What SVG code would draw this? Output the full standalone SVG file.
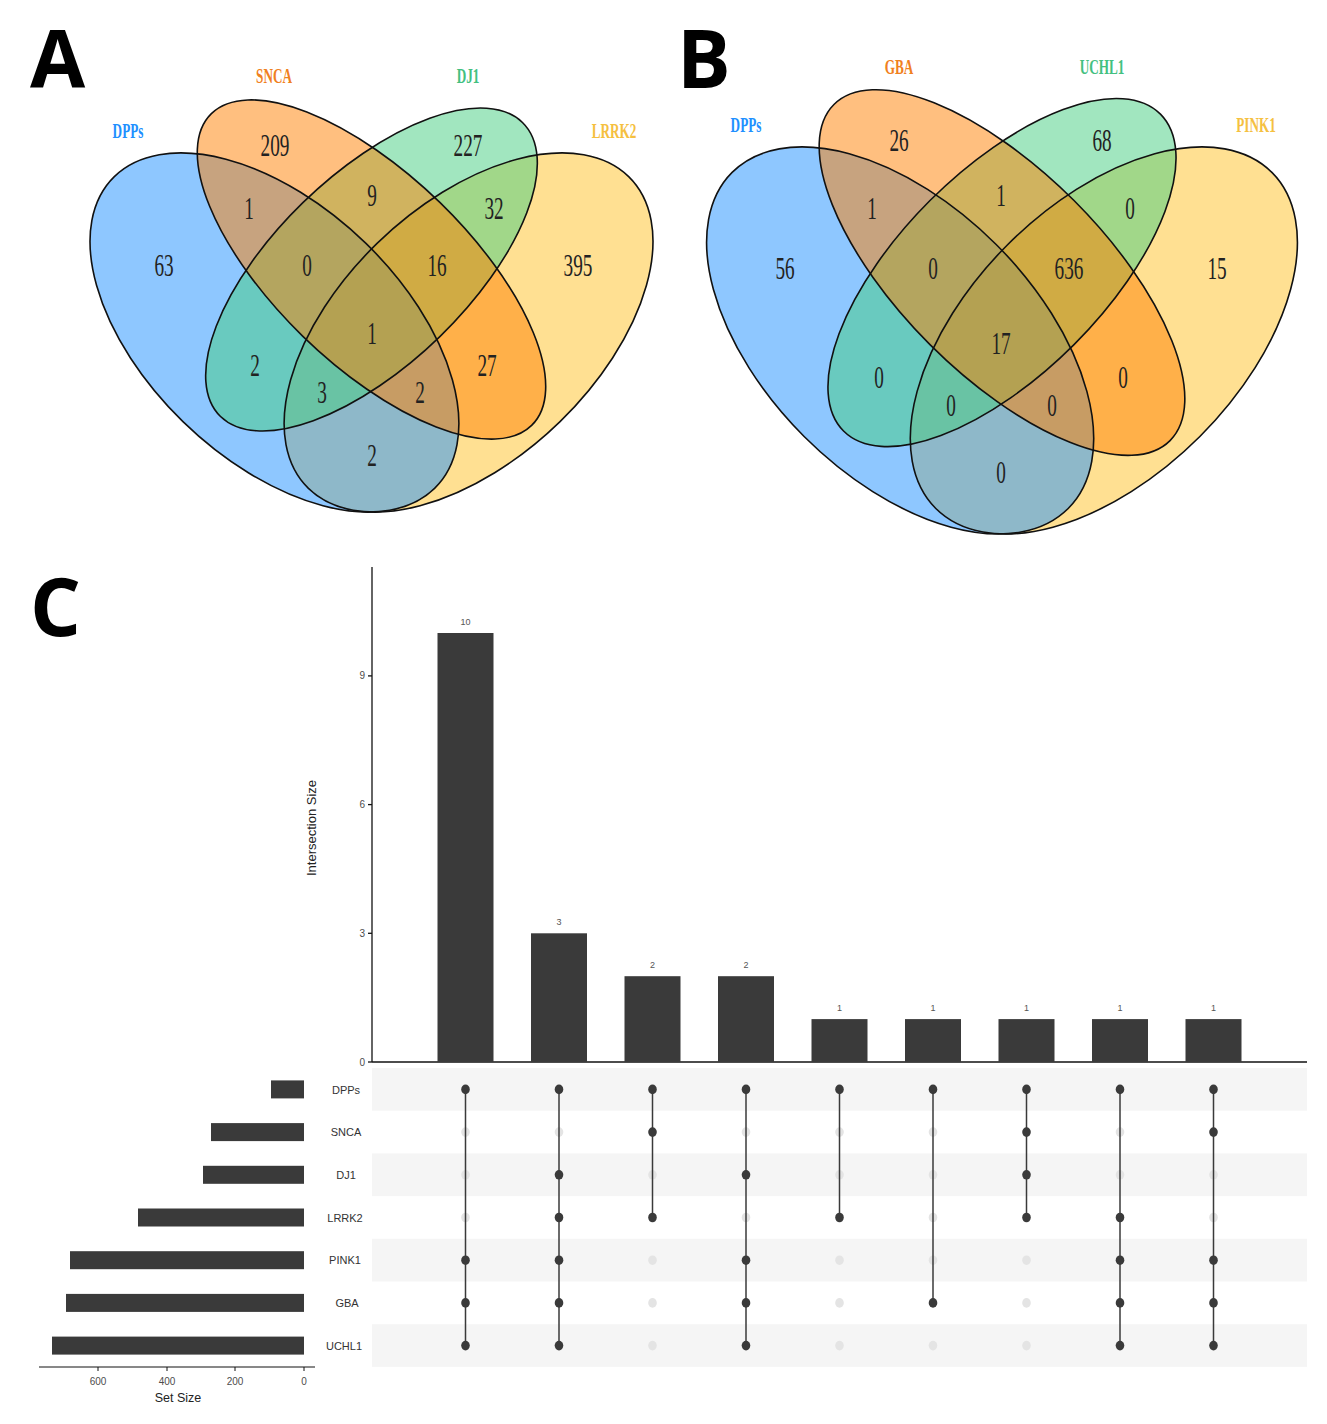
<svg xmlns="http://www.w3.org/2000/svg" width="1327" height="1424" viewBox="0 0 1327 1424">
<style>
.panel{font-family:"Open Sans","Liberation Sans",sans-serif;font-weight:bold;font-size:80px;fill:#000}
.num{font-family:"Liberation Serif",serif;font-size:31px;fill:#222;text-anchor:middle}
.lab{font-family:"Liberation Serif",serif;font-size:22px;font-weight:bold;text-anchor:middle}
.ell{fill-opacity:0.5;stroke:none}
.edge{fill:none;stroke:#111;stroke-width:1.6}
.bar{fill:#3a3a3a}
.tick{font-family:"Liberation Sans",Arial,sans-serif;font-size:10px;fill:#4d4d4d}
.blab{font-family:"Liberation Sans",Arial,sans-serif;font-size:9px;fill:#555;text-anchor:middle}
.rowlab{font-family:"Liberation Sans",Arial,sans-serif;font-size:11px;fill:#333;text-anchor:middle}
.axt{font-family:"Liberation Sans",Arial,sans-serif;font-size:13px;fill:#222;text-anchor:middle}
.ax{stroke:#111;stroke-width:1.3;fill:none}
.on{fill:#3a3a3a}
.off{fill:#e4e4e4}
.stripe{fill:#f5f5f5}
.link{stroke:#3a3a3a;stroke-width:1.5}
</style>
<defs>
<g id="vennShapes">
<ellipse class="ell" style="fill:#FFC125" cx="0.65" cy="0.47" rx="0.35" ry="0.2" transform="rotate(45 0.65 0.47)"/>
<ellipse class="ell" style="fill:#1E90FF" cx="0.35" cy="0.47" rx="0.35" ry="0.2" transform="rotate(-45 0.35 0.47)"/>
<ellipse class="ell" style="fill:#43CD80" cx="0.5" cy="0.57" rx="0.33" ry="0.15" transform="rotate(45 0.5 0.57)"/>
<ellipse class="ell" style="fill:#FF7F00" cx="0.5" cy="0.57" rx="0.35" ry="0.15" transform="rotate(-45 0.5 0.57)"/>
<ellipse class="edge" vector-effect="non-scaling-stroke" cx="0.65" cy="0.47" rx="0.35" ry="0.2" transform="rotate(45 0.65 0.47)"/>
<ellipse class="edge" vector-effect="non-scaling-stroke" cx="0.35" cy="0.47" rx="0.35" ry="0.2" transform="rotate(-45 0.35 0.47)"/>
<ellipse class="edge" vector-effect="non-scaling-stroke" cx="0.5" cy="0.57" rx="0.33" ry="0.15" transform="rotate(45 0.5 0.57)"/>
<ellipse class="edge" vector-effect="non-scaling-stroke" cx="0.5" cy="0.57" rx="0.35" ry="0.15" transform="rotate(-45 0.5 0.57)"/>
</g>
</defs>
<rect width="1327" height="1424" fill="#fff"/>

<!-- Panel A -->
<g id="panelA">
<text class="panel" x="30" y="88">A</text>
<g id="vennA-sets" transform="matrix(647,0,0,-630,48,628.6)"><use href="#vennShapes"/></g>
<g id="vennA-labels">
<text class="lab" style="fill:#1E90FF" transform="translate(128,137.5) scale(0.6,1)">DPPs</text>
<text class="lab" style="fill:#F08020" transform="translate(274,82.5) scale(0.6,1)">SNCA</text>
<text class="lab" style="fill:#43C080" transform="translate(468,82.5) scale(0.6,1)">DJ1</text>
<text class="lab" style="fill:#F5C040" transform="translate(614,137.5) scale(0.6,1)">LRRK2</text>
</g>
<g id="vennA-counts">
<text class="num" transform="translate(164,275.5) scale(0.62,1)">63</text>
<text class="num" transform="translate(275,155.5) scale(0.62,1)">209</text>
<text class="num" transform="translate(468,155.5) scale(0.62,1)">227</text>
<text class="num" transform="translate(578,275.5) scale(0.62,1)">395</text>
<text class="num" transform="translate(249,218.5) scale(0.62,1)">1</text>
<text class="num" transform="translate(372,205.5) scale(0.62,1)">9</text>
<text class="num" transform="translate(494,218.5) scale(0.62,1)">32</text>
<text class="num" transform="translate(307,275.5) scale(0.62,1)">0</text>
<text class="num" transform="translate(437,275.5) scale(0.62,1)">16</text>
<text class="num" transform="translate(372,343.5) scale(0.62,1)">1</text>
<text class="num" transform="translate(255,375.5) scale(0.62,1)">2</text>
<text class="num" transform="translate(487,375.5) scale(0.62,1)">27</text>
<text class="num" transform="translate(322,402.5) scale(0.62,1)">3</text>
<text class="num" transform="translate(420,402.5) scale(0.62,1)">2</text>
<text class="num" transform="translate(372,465.5) scale(0.62,1)">2</text>
</g>
</g>

<!-- Panel B -->
<g id="panelB">
<text class="panel" x="677" y="88">B</text>
<g id="vennB-sets" transform="matrix(679,0,0,-679,662.5,659.6)"><use href="#vennShapes"/></g>
<g id="vennB-labels">
<text class="lab" style="fill:#1E90FF" transform="translate(746,131.5) scale(0.6,1)">DPPs</text>
<text class="lab" style="fill:#F08020" transform="translate(899,73.5) scale(0.6,1)">GBA</text>
<text class="lab" style="fill:#43C080" transform="translate(1102,73.5) scale(0.6,1)">UCHL1</text>
<text class="lab" style="fill:#F5C040" transform="translate(1256,131.5) scale(0.6,1)">PINK1</text>
</g>
<g id="vennB-counts">
<text class="num" transform="translate(785,278.5) scale(0.62,1)">56</text>
<text class="num" transform="translate(899,150.5) scale(0.62,1)">26</text>
<text class="num" transform="translate(1102,150.5) scale(0.62,1)">68</text>
<text class="num" transform="translate(1217,278.5) scale(0.62,1)">15</text>
<text class="num" transform="translate(872,218.5) scale(0.62,1)">1</text>
<text class="num" transform="translate(1001,205.5) scale(0.62,1)">1</text>
<text class="num" transform="translate(1130,218.5) scale(0.62,1)">0</text>
<text class="num" transform="translate(933,278.5) scale(0.62,1)">0</text>
<text class="num" transform="translate(1069,278.5) scale(0.62,1)">636</text>
<text class="num" transform="translate(1001,353.5) scale(0.62,1)">17</text>
<text class="num" transform="translate(879,387.5) scale(0.62,1)">0</text>
<text class="num" transform="translate(1123,387.5) scale(0.62,1)">0</text>
<text class="num" transform="translate(951,415.5) scale(0.62,1)">0</text>
<text class="num" transform="translate(1052,415.5) scale(0.62,1)">0</text>
<text class="num" transform="translate(1001,482.5) scale(0.62,1)">0</text>
</g>
</g>

<!-- Panel C -->
<g id="panelC">
<text class="panel" x="30" y="636">C</text>

<g id="matrix-stripes">
<rect class="stripe" x="372" y="1068" width="935" height="42.7"/>
<rect class="stripe" x="372" y="1153.4" width="935" height="42.7"/>
<rect class="stripe" x="372" y="1238.8" width="935" height="42.7"/>
<rect class="stripe" x="372" y="1324.2" width="935" height="42.7"/>
</g>

<g id="intersection-axis">
<line class="ax" x1="372" y1="567" x2="372" y2="1062"/>
<line class="ax" x1="372" y1="1062" x2="1307" y2="1062"/>
<line class="ax" x1="368" y1="1062" x2="372" y2="1062"/>
<line class="ax" x1="368" y1="933.3" x2="372" y2="933.3"/>
<line class="ax" x1="368" y1="804.6" x2="372" y2="804.6"/>
<line class="ax" x1="368" y1="675.9" x2="372" y2="675.9"/>
<text class="tick" x="365" y="1065.5" text-anchor="end">0</text>
<text class="tick" x="365" y="936.8" text-anchor="end">3</text>
<text class="tick" x="365" y="808.1" text-anchor="end">6</text>
<text class="tick" x="365" y="679.4" text-anchor="end">9</text>
<text class="axt" transform="translate(316,828) rotate(-90)">Intersection Size</text>
</g>

<g id="intersection-bars">
<rect class="bar" x="437.5" y="633" width="56" height="429"/>
<rect class="bar" x="531" y="933.3" width="56" height="128.7"/>
<rect class="bar" x="624.5" y="976.2" width="56" height="85.8"/>
<rect class="bar" x="718" y="976.2" width="56" height="85.8"/>
<rect class="bar" x="811.5" y="1019.1" width="56" height="42.9"/>
<rect class="bar" x="905" y="1019.1" width="56" height="42.9"/>
<rect class="bar" x="998.5" y="1019.1" width="56" height="42.9"/>
<rect class="bar" x="1092" y="1019.1" width="56" height="42.9"/>
<rect class="bar" x="1185.5" y="1019.1" width="56" height="42.9"/>
<text class="blab" x="465.5" y="625">10</text>
<text class="blab" x="559" y="925">3</text>
<text class="blab" x="652.5" y="968">2</text>
<text class="blab" x="746" y="968">2</text>
<text class="blab" x="839.5" y="1011">1</text>
<text class="blab" x="933" y="1011">1</text>
<text class="blab" x="1026.5" y="1011">1</text>
<text class="blab" x="1120" y="1011">1</text>
<text class="blab" x="1213.5" y="1011">1</text>
</g>

<g id="set-size">
<rect class="bar" x="271" y="1080.4" width="33" height="18"/>
<rect class="bar" x="211" y="1123.1" width="93" height="18"/>
<rect class="bar" x="203" y="1165.8" width="101" height="18"/>
<rect class="bar" x="138" y="1208.5" width="166" height="18"/>
<rect class="bar" x="70" y="1251.2" width="234" height="18"/>
<rect class="bar" x="66" y="1293.9" width="238" height="18"/>
<rect class="bar" x="52" y="1336.6" width="252" height="18"/>
<line class="ax" x1="39" y1="1367" x2="315" y2="1367" style="stroke-width:1"/>
<line class="ax" x1="98" y1="1367" x2="98" y2="1371" style="stroke-width:1"/>
<line class="ax" x1="167" y1="1367" x2="167" y2="1371" style="stroke-width:1"/>
<line class="ax" x1="235" y1="1367" x2="235" y2="1371" style="stroke-width:1"/>
<line class="ax" x1="304" y1="1367" x2="304" y2="1371" style="stroke-width:1"/>
<text class="tick" x="98" y="1385" text-anchor="middle">600</text>
<text class="tick" x="167" y="1385" text-anchor="middle">400</text>
<text class="tick" x="235" y="1385" text-anchor="middle">200</text>
<text class="tick" x="304" y="1385" text-anchor="middle">0</text>
<text class="axt" x="178" y="1402" style="font-size:12.5px">Set Size</text>
</g>

<g id="row-labels">
<text class="rowlab" x="346" y="1093.5">DPPs</text>
<text class="rowlab" x="346" y="1136.2">SNCA</text>
<text class="rowlab" x="346" y="1178.9">DJ1</text>
<text class="rowlab" x="345" y="1221.6">LRRK2</text>
<text class="rowlab" x="345" y="1264.3">PINK1</text>
<text class="rowlab" x="347" y="1307">GBA</text>
<text class="rowlab" x="344" y="1349.7">UCHL1</text>
</g>

<g id="matrix-inactive">
<ellipse class="off" cx="465.5" cy="1132.1" rx="4.3" ry="4.8"/>
<ellipse class="off" cx="465.5" cy="1174.8" rx="4.3" ry="4.8"/>
<ellipse class="off" cx="465.5" cy="1217.5" rx="4.3" ry="4.8"/>
<ellipse class="off" cx="559" cy="1132.1" rx="4.3" ry="4.8"/>
<ellipse class="off" cx="652.5" cy="1174.8" rx="4.3" ry="4.8"/>
<ellipse class="off" cx="652.5" cy="1260.2" rx="4.3" ry="4.8"/>
<ellipse class="off" cx="652.5" cy="1302.9" rx="4.3" ry="4.8"/>
<ellipse class="off" cx="652.5" cy="1345.6" rx="4.3" ry="4.8"/>
<ellipse class="off" cx="746" cy="1132.1" rx="4.3" ry="4.8"/>
<ellipse class="off" cx="746" cy="1217.5" rx="4.3" ry="4.8"/>
<ellipse class="off" cx="839.5" cy="1132.1" rx="4.3" ry="4.8"/>
<ellipse class="off" cx="839.5" cy="1174.8" rx="4.3" ry="4.8"/>
<ellipse class="off" cx="839.5" cy="1260.2" rx="4.3" ry="4.8"/>
<ellipse class="off" cx="839.5" cy="1302.9" rx="4.3" ry="4.8"/>
<ellipse class="off" cx="839.5" cy="1345.6" rx="4.3" ry="4.8"/>
<ellipse class="off" cx="933" cy="1132.1" rx="4.3" ry="4.8"/>
<ellipse class="off" cx="933" cy="1174.8" rx="4.3" ry="4.8"/>
<ellipse class="off" cx="933" cy="1217.5" rx="4.3" ry="4.8"/>
<ellipse class="off" cx="933" cy="1260.2" rx="4.3" ry="4.8"/>
<ellipse class="off" cx="933" cy="1345.6" rx="4.3" ry="4.8"/>
<ellipse class="off" cx="1026.5" cy="1260.2" rx="4.3" ry="4.8"/>
<ellipse class="off" cx="1026.5" cy="1302.9" rx="4.3" ry="4.8"/>
<ellipse class="off" cx="1026.5" cy="1345.6" rx="4.3" ry="4.8"/>
<ellipse class="off" cx="1120" cy="1132.1" rx="4.3" ry="4.8"/>
<ellipse class="off" cx="1120" cy="1174.8" rx="4.3" ry="4.8"/>
<ellipse class="off" cx="1213.5" cy="1174.8" rx="4.3" ry="4.8"/>
<ellipse class="off" cx="1213.5" cy="1217.5" rx="4.3" ry="4.8"/>
</g>

<g id="connectors">
<line class="link" x1="465.5" y1="1089.4" x2="465.5" y2="1345.6"/>
<line class="link" x1="559" y1="1089.4" x2="559" y2="1345.6"/>
<line class="link" x1="652.5" y1="1089.4" x2="652.5" y2="1217.5"/>
<line class="link" x1="746" y1="1089.4" x2="746" y2="1345.6"/>
<line class="link" x1="839.5" y1="1089.4" x2="839.5" y2="1217.5"/>
<line class="link" x1="933" y1="1089.4" x2="933" y2="1302.9"/>
<line class="link" x1="1026.5" y1="1089.4" x2="1026.5" y2="1217.5"/>
<line class="link" x1="1120" y1="1089.4" x2="1120" y2="1345.6"/>
<line class="link" x1="1213.5" y1="1089.4" x2="1213.5" y2="1345.6"/>
</g>

<g id="matrix-active">
<ellipse class="on" cx="465.5" cy="1089.4" rx="4.3" ry="4.8"/>
<ellipse class="on" cx="465.5" cy="1260.2" rx="4.3" ry="4.8"/>
<ellipse class="on" cx="465.5" cy="1302.9" rx="4.3" ry="4.8"/>
<ellipse class="on" cx="465.5" cy="1345.6" rx="4.3" ry="4.8"/>
<ellipse class="on" cx="559" cy="1089.4" rx="4.3" ry="4.8"/>
<ellipse class="on" cx="559" cy="1174.8" rx="4.3" ry="4.8"/>
<ellipse class="on" cx="559" cy="1217.5" rx="4.3" ry="4.8"/>
<ellipse class="on" cx="559" cy="1260.2" rx="4.3" ry="4.8"/>
<ellipse class="on" cx="559" cy="1302.9" rx="4.3" ry="4.8"/>
<ellipse class="on" cx="559" cy="1345.6" rx="4.3" ry="4.8"/>
<ellipse class="on" cx="652.5" cy="1089.4" rx="4.3" ry="4.8"/>
<ellipse class="on" cx="652.5" cy="1132.1" rx="4.3" ry="4.8"/>
<ellipse class="on" cx="652.5" cy="1217.5" rx="4.3" ry="4.8"/>
<ellipse class="on" cx="746" cy="1089.4" rx="4.3" ry="4.8"/>
<ellipse class="on" cx="746" cy="1174.8" rx="4.3" ry="4.8"/>
<ellipse class="on" cx="746" cy="1260.2" rx="4.3" ry="4.8"/>
<ellipse class="on" cx="746" cy="1302.9" rx="4.3" ry="4.8"/>
<ellipse class="on" cx="746" cy="1345.6" rx="4.3" ry="4.8"/>
<ellipse class="on" cx="839.5" cy="1089.4" rx="4.3" ry="4.8"/>
<ellipse class="on" cx="839.5" cy="1217.5" rx="4.3" ry="4.8"/>
<ellipse class="on" cx="933" cy="1089.4" rx="4.3" ry="4.8"/>
<ellipse class="on" cx="933" cy="1302.9" rx="4.3" ry="4.8"/>
<ellipse class="on" cx="1026.5" cy="1089.4" rx="4.3" ry="4.8"/>
<ellipse class="on" cx="1026.5" cy="1132.1" rx="4.3" ry="4.8"/>
<ellipse class="on" cx="1026.5" cy="1174.8" rx="4.3" ry="4.8"/>
<ellipse class="on" cx="1026.5" cy="1217.5" rx="4.3" ry="4.8"/>
<ellipse class="on" cx="1120" cy="1089.4" rx="4.3" ry="4.8"/>
<ellipse class="on" cx="1120" cy="1217.5" rx="4.3" ry="4.8"/>
<ellipse class="on" cx="1120" cy="1260.2" rx="4.3" ry="4.8"/>
<ellipse class="on" cx="1120" cy="1302.9" rx="4.3" ry="4.8"/>
<ellipse class="on" cx="1120" cy="1345.6" rx="4.3" ry="4.8"/>
<ellipse class="on" cx="1213.5" cy="1089.4" rx="4.3" ry="4.8"/>
<ellipse class="on" cx="1213.5" cy="1132.1" rx="4.3" ry="4.8"/>
<ellipse class="on" cx="1213.5" cy="1260.2" rx="4.3" ry="4.8"/>
<ellipse class="on" cx="1213.5" cy="1302.9" rx="4.3" ry="4.8"/>
<ellipse class="on" cx="1213.5" cy="1345.6" rx="4.3" ry="4.8"/>
</g>
</g>
</svg>
